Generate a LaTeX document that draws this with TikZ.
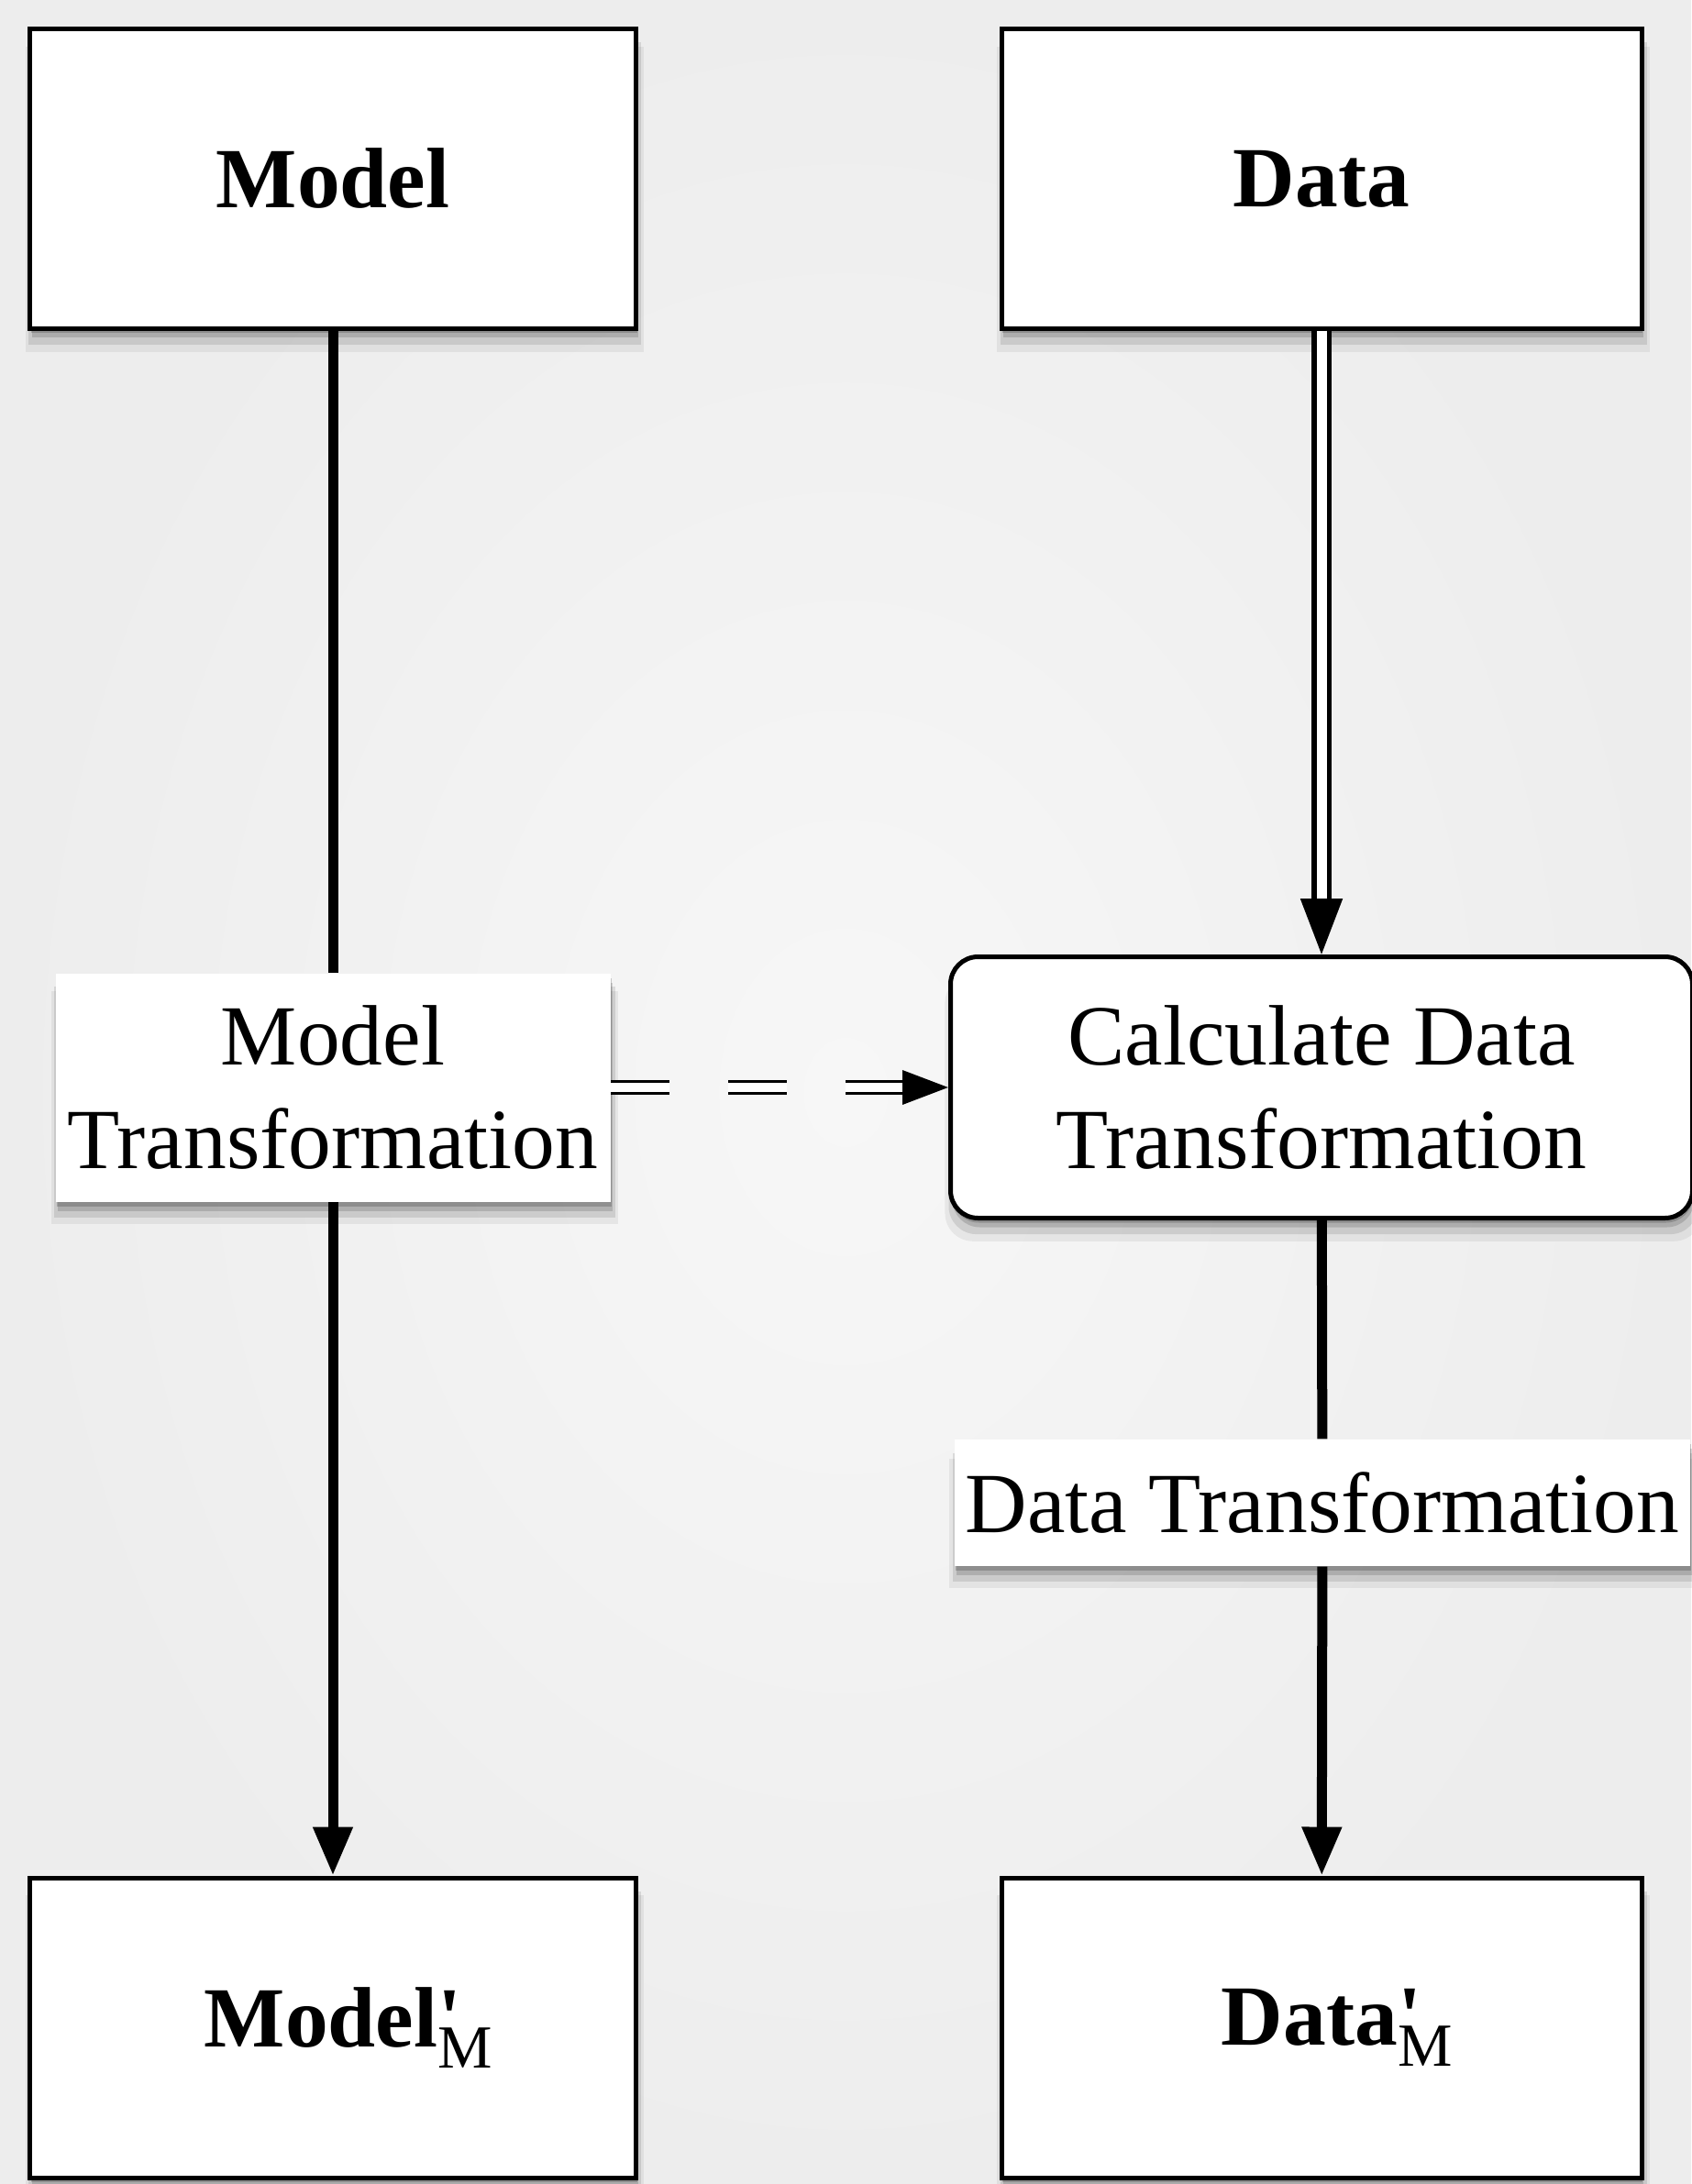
\documentclass[tikz,border=0pt]{standalone}
\usepackage{fontspec}
\setmainfont{Liberation Serif}
\usetikzlibrary{arrows.meta,shadows}
\definecolor{bgin}{RGB}{247,247,247}
\definecolor{bgout}{RGB}{237,237,237}

\begin{document}
\begin{tikzpicture}[
     font = \fontsize{26.6}{31.9}\selectfont,
     shade box/.style = {
        general shadow={fill=black, opacity=0.06, shadow xshift=0.02cm, shadow yshift=-0.22cm, shadow scale=1.02},
        general shadow={fill=black, opacity=0.1, shadow xshift=0.02cm, shadow yshift=-0.16cm, shadow scale=1.01},
        general shadow={fill=black, opacity=0.14, shadow xshift=0.02cm, shadow yshift=-0.1cm},
        general shadow={fill=black, opacity=0.18, shadow xshift=0.01cm, shadow yshift=-0.05cm}},
     block/.style = {draw, line width=0.05cm, fill=white, minimum height=3.27cm, shade box},
     calcblock/.style = {block, rounded corners=0.3cm, align=center,
        minimum width=8.09cm, minimum height=2.85cm},
     tag/.style = {fill=white, align=center, inner sep=0pt, shade box},
     flow/.style = {line width=0.11cm},
     flowarrow/.style = {flow, -{Triangle[length=0.53cm, width=0.41cm]}},
     feed/.style = {double, line width=0.055cm, double distance=0.11cm,
        -{Triangle[length=0.61cm, width=0.45cm]}},
     hint/.style = {double, line width=0.035cm, double distance=0.095cm,
        dash pattern=on 0.64cm off 0.64cm, -{Triangle[length=0.5cm, width=0.37cm]}}
    ]
    \useasboundingbox (0,0) rectangle (18.44,-23.82);
    \shade[inner color=bgin, outer color=bgout] (0,0) rectangle (18.44,-23.82);

    % top row
    \node[block, minimum width=6.61cm] (model) at (3.63,-1.95) {\textbf{Model}};
    \node[block, minimum width=6.98cm] (data) at (14.41,-1.95) {\textbf{Data}};

    % middle
    \node[tag, minimum width=6.05cm, minimum height=2.49cm] (mtrans) at (3.63,-11.86)
      {Model\\Transformation};
    \node[calcblock] (calc) at (14.41,-11.86) {Calculate Data\\Transformation};
    \node[tag, minimum width=8.02cm, minimum height=1.38cm] (dtrans) at (14.42,-16.39)
      {Data Transformation};

    % bottom row
    \node[block, minimum width=6.61cm] (modelp) at (3.63,-22.115)
      {\textbf{Model}\rlap{\raisebox{-0.25em}{\fontsize{19}{19}\selectfont M}}\textbf{\textquotesingle}};
    \node[block, minimum width=6.98cm] (datap) at (14.41,-22.115)
      {\textbf{Data}\rlap{\raisebox{-0.25em}{\fontsize{19}{19}\selectfont M}}\textbf{\textquotesingle}};

    \draw[flow] (model) -- (mtrans);
    \draw[flowarrow] (mtrans) -- (modelp);
    \draw[feed] (data) -- (calc);
    \draw[hint] (mtrans) -- (calc);
    \draw[flow] (calc) -- (dtrans);
    \draw[flowarrow] (dtrans) -- (datap);

   \end{tikzpicture}
\end{document}
